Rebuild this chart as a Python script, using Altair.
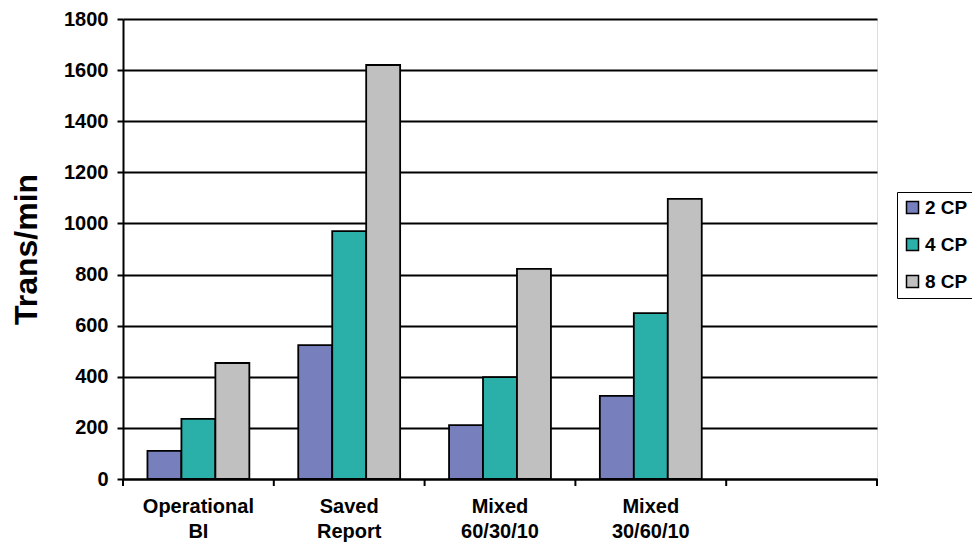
import altair as alt
import pandas as pd

categories = ["Operational|BI", "Saved|Report", "Mixed|60/30/10", "Mixed|30/60/10", " "]
series = ["2 CP", "4 CP", "8 CP"]
cp2 = [110, 524, 211, 325]
cp4 = [235, 970, 399, 649]
cp8 = [454, 1620, 822, 1096]
colors = ["#7780BC", "#2AAFA9", "#C0C0C0"]
y_ticks = [0, 200, 400, 600, 800, 1000, 1200, 1400, 1600, 1800]

rows = []
for i, cat in enumerate(categories[:4]):
    for s, vals in zip(series, [cp2, cp4, cp8]):
        rows.append({"cat": cat, "series": s, "value": vals[i]})
df = pd.DataFrame(rows)
cat_df = pd.DataFrame({"cat": categories})
last_df = pd.DataFrame({"cat": categories[-1:]})

FONT = "Liberation Sans"

xscale = alt.Scale(domain=categories, paddingInner=0, paddingOuter=0)

bars = alt.Chart(df).mark_bar(stroke="black", strokeWidth=1.8).encode(
    x=alt.X("cat:N", scale=xscale, sort=categories,
            axis=alt.Axis(title=None, labelAngle=0, ticks=False, domain=True,
                          domainColor="black", domainWidth=2,
                          labelExpr="split(datum.label, '|')",
                          labelFont=FONT, labelFontSize=20, labelFontWeight="bold",
                          labelColor="black", labelPadding=17, labelLineHeight=25,
                          grid=False)),
    xOffset=alt.XOffset("series:N", sort=series,
                        scale=alt.Scale(paddingInner=0, paddingOuter=0.72)),
    y=alt.Y("value:Q", scale=alt.Scale(domain=[0, 1800], nice=False),
            axis=alt.Axis(title="Trans/min", values=y_ticks, format="d", grid=True,
                          gridColor="black", gridWidth=2, gridOpacity=1,
                          domainColor="black", domainWidth=2,
                          tickColor="black", tickSize=6, tickWidth=2,
                          labelFont=FONT, labelFontSize=20, labelFontWeight="bold",
                          labelColor="black", labelPadding=9,
                          titleFont=FONT, titleFontSize=32, titleFontWeight="bold",
                          titleColor="black", titlePadding=20)),
    color=alt.Color("series:N", sort=series,
                    scale=alt.Scale(domain=series, range=colors),
                    legend=alt.Legend(title=None, orient="none", legendX=774, legendY=173,
                                      strokeColor="black", padding=6,
                                      symbolType="square", symbolSize=144,
                                      symbolStrokeColor="black", symbolStrokeWidth=1.5,
                                      symbolOpacity=1,
                                      labelFont=FONT, labelFontSize=19,
                                      labelFontWeight="bold", labelColor="black",
                                      rowPadding=17, labelOffset=3)),
)

ticks = alt.Chart(cat_df).mark_rule(color="black", strokeWidth=2).encode(
    x=alt.X("cat:N", scale=xscale, sort=categories, bandPosition=0),
    y=alt.value(460), y2=alt.value(467),
)
last_tick = alt.Chart(last_df).mark_rule(color="black", strokeWidth=2).encode(
    x=alt.X("cat:N", scale=xscale, sort=categories, bandPosition=1),
    y=alt.value(460), y2=alt.value(467),
)

chart = alt.layer(bars, ticks, last_tick).properties(
    width=754, height=460,
    autosize=alt.AutoSizeParams(type="none"),
    padding={"left": 115, "top": 11, "right": 95, "bottom": 65},
).configure_view(stroke=None).configure(background="white")

chart.save("out.html", embed_options={"renderer": "svg", "actions": False})
